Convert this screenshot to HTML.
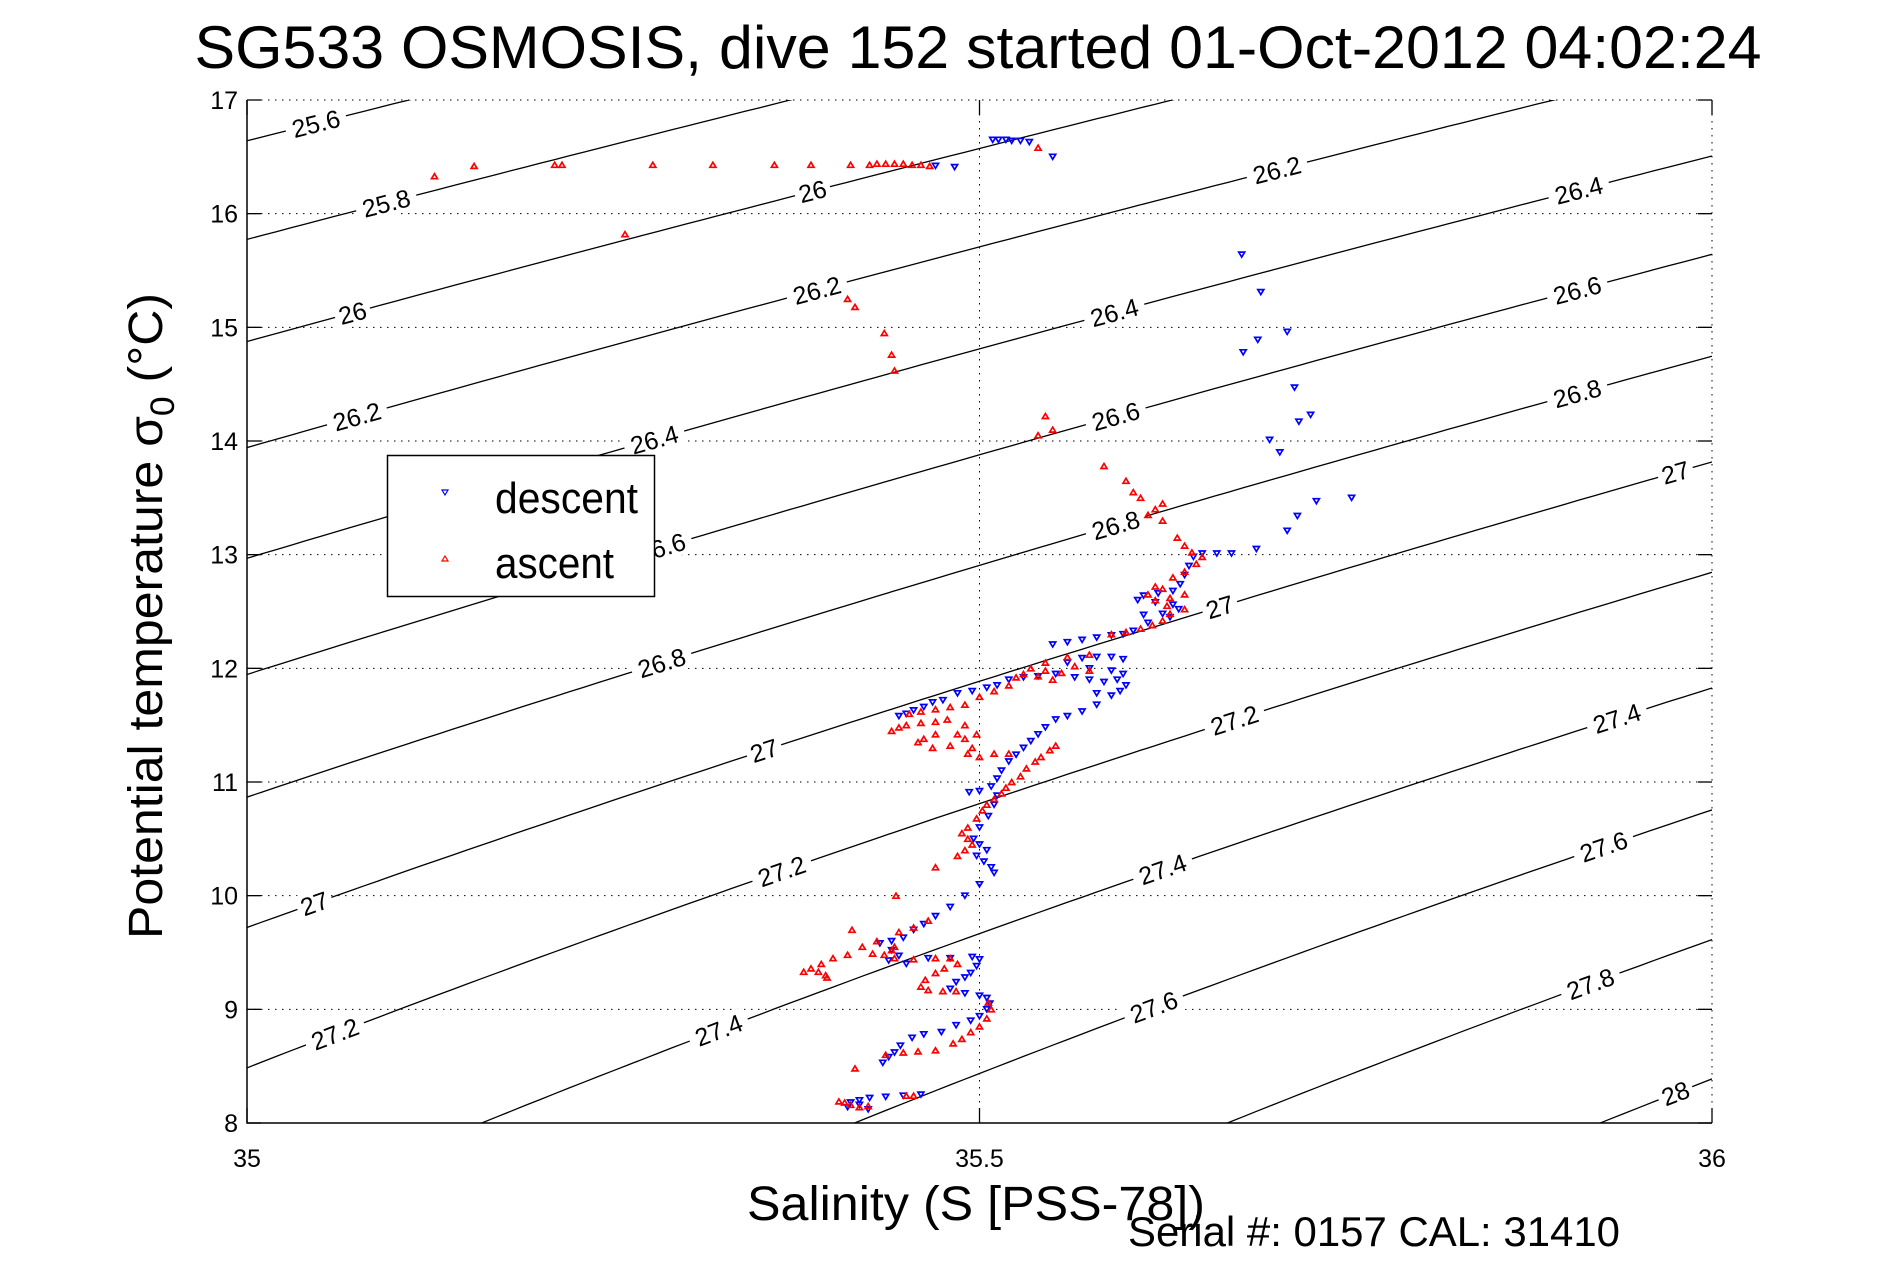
<!DOCTYPE html>
<html><head><meta charset="utf-8"><style>
html,body{margin:0;padding:0;background:#fff;overflow:hidden;width:1891px;height:1262px;}
svg{display:block;font-family:"Liberation Sans",sans-serif;}
</style></head><body>
<svg id="chart" width="1891" height="1262" viewBox="0 0 1891 1262" xmlns="http://www.w3.org/2000/svg">
<defs><clipPath id="clip"><rect x="247" y="100" width="1465" height="1023"/></clipPath></defs>
<text x="978" y="68" font-size="60" text-anchor="middle" textLength="1567" lengthAdjust="spacingAndGlyphs">SG533 OSMOSIS, dive 152 started 01-Oct-2012 04:02:24</text>
<g id="grid"></g>
<g id="contours" clip-path="url(#clip)"></g>
<g id="clabels"></g>
<g id="marks" clip-path="url(#clip)"></g>
<g id="axes"></g>
<text x="976" y="1220" font-size="48" text-anchor="middle" textLength="458" lengthAdjust="spacingAndGlyphs">Salinity (S [PSS-78])</text>
<text transform="translate(162,616) rotate(-90)" font-size="48" text-anchor="middle" textLength="646" lengthAdjust="spacingAndGlyphs">Potential temperature σ<tspan font-size="34" dy="12">0</tspan><tspan dy="-12"> (°C)</tspan></text>
<text x="1128" y="1246" font-size="42" textLength="492" lengthAdjust="spacingAndGlyphs">Serial #: 0157  CAL: 31410</text>
<g>
<rect x="387.5" y="455.5" width="267" height="141" fill="#fff" stroke="#000" stroke-width="1.5"/>
<path d="M442,490 L448,490 L445,495 Z" fill="none" stroke="#00f" stroke-width="1.2"/>
<text x="495" y="513" font-size="44" textLength="143" lengthAdjust="spacingAndGlyphs">descent</text>
<path d="M442,561 L448,561 L445,556 Z" fill="none" stroke="#f00" stroke-width="1.2"/>
<text x="495" y="578" font-size="44" textLength="119" lengthAdjust="spacingAndGlyphs">ascent</text>
</g>
</svg>
<script>
const xTicks=[35,35.5,36];
const xTickLabels=["35","35.5","36"];
const yTicks=[8,9,10,11,12,13,14,15,16,17];
const yTickLabels=["8","9","10","11","12","13","14","15","16","17"];
const sigmaLevels=[25.6,25.8,26.0,26.2,26.4,26.6,26.8,27.0,27.2,27.4,27.6,27.8,28.0];
const labelLevels=[25.6,25.8,26,26.2,26.4,26.6,26.8,27,27,27.2,27.2,27.4,26,26.2,26.4,26.6,26.8,27,27.2,27.4,27.6,26.2,26.4,26.6,26.8,27,27.4,27.6,27.8,28];
const labelSal=[35.047,35.095,35.072,35.075,35.278,35.283,35.283,35.353,35.046,35.365,35.060,35.322,35.386,35.389,35.592,35.593,35.593,35.664,35.674,35.625,35.619,35.703,35.909,35.908,35.908,35.975,35.935,35.926,35.917,35.975];
const descentS=[35.509,35.513,35.518,35.522,35.528,35.534,35.550,35.483,35.470,35.679,35.692,35.710,35.690,35.680,35.715,35.726,35.718,35.698,35.705,35.754,35.730,35.717,35.710,35.689,35.672,35.662,35.652,35.646,35.643,35.640,35.637,35.632,35.622,35.612,35.608,35.620,35.632,35.636,35.625,35.612,35.630,35.615,35.605,35.598,35.590,35.580,35.570,35.560,35.550,35.598,35.590,35.580,35.570,35.560,35.575,35.590,35.598,35.594,35.585,35.575,35.565,35.600,35.596,35.590,35.580,35.552,35.540,35.530,35.520,35.512,35.505,35.495,35.485,35.475,35.468,35.462,35.455,35.450,35.445,35.580,35.570,35.560,35.552,35.545,35.540,35.535,35.530,35.525,35.520,35.515,35.512,35.508,35.500,35.493,35.512,35.510,35.506,35.500,35.496,35.500,35.505,35.498,35.503,35.508,35.510,35.500,35.490,35.480,35.470,35.462,35.455,35.448,35.440,35.432,35.440,35.445,35.438,35.450,35.465,35.480,35.495,35.500,35.498,35.494,35.490,35.484,35.480,35.490,35.500,35.505,35.507,35.505,35.500,35.494,35.484,35.474,35.462,35.454,35.446,35.442,35.438,35.434,35.460,35.448,35.436,35.425,35.418,35.412,35.418,35.424,35.410];
const descentT=[16.65,16.65,16.65,16.64,16.64,16.63,16.50,16.41,16.42,15.64,15.31,14.96,14.89,14.78,14.47,14.23,14.17,14.01,13.90,13.50,13.47,13.34,13.21,13.05,13.01,13.01,13.01,12.98,12.90,12.82,12.74,12.68,12.66,12.64,12.60,12.58,12.56,12.52,12.48,12.47,12.45,12.40,12.33,12.30,12.29,12.27,12.25,12.23,12.21,12.08,12.10,12.10,12.09,12.05,12.00,11.98,11.95,11.90,11.88,11.90,11.92,11.85,11.80,11.76,11.78,11.95,11.93,11.92,11.90,11.85,11.83,11.80,11.78,11.72,11.70,11.66,11.63,11.60,11.58,11.68,11.62,11.58,11.55,11.48,11.42,11.36,11.30,11.24,11.18,11.10,11.03,10.96,10.92,10.91,10.88,10.80,10.70,10.60,10.50,10.45,10.40,10.35,10.30,10.25,10.20,10.10,10.00,9.90,9.82,9.75,9.70,9.63,9.60,9.58,9.52,9.47,9.43,9.40,9.45,9.45,9.46,9.44,9.38,9.32,9.28,9.24,9.18,9.14,9.12,9.10,9.05,9.00,8.94,8.90,8.86,8.80,8.78,8.75,8.68,8.62,8.58,8.53,8.25,8.24,8.23,8.22,8.20,8.18,8.16,8.12,8.14];
const ascentS=[35.408,35.404,35.412,35.418,35.424,35.450,35.455,35.415,35.436,35.448,35.458,35.470,35.482,35.488,35.494,35.500,35.505,35.508,35.506,35.484,35.475,35.465,35.460,35.463,35.470,35.476,35.485,35.480,35.470,35.455,35.442,35.435,35.440,35.442,35.395,35.390,35.385,35.392,35.400,35.410,35.420,35.430,35.445,35.455,35.465,35.380,35.396,35.427,35.413,35.443,35.470,35.485,35.490,35.495,35.492,35.488,35.492,35.498,35.502,35.505,35.510,35.515,35.518,35.522,35.528,35.532,35.538,35.542,35.548,35.552,35.445,35.440,35.450,35.460,35.470,35.478,35.470,35.462,35.458,35.468,35.480,35.490,35.498,35.495,35.492,35.500,35.510,35.520,35.490,35.485,35.452,35.460,35.470,35.480,35.490,35.500,35.510,35.520,35.525,35.530,35.540,35.550,35.556,35.545,35.535,35.545,35.560,35.575,35.565,35.575,35.590,35.600,35.610,35.618,35.625,35.630,35.640,35.628,35.620,35.615,35.630,35.640,35.625,35.620,35.632,35.640,35.648,35.652,35.645,35.640,35.635,35.625,35.615,35.620,35.625,35.610,35.605,35.600,35.585,35.550,35.545,35.540,35.442,35.440,35.435,35.415,35.410,35.258,35.128,35.155,35.210,35.215,35.277,35.318,35.360,35.385,35.412,35.425,35.430,35.436,35.442,35.448,35.454,35.460,35.466,35.540];
const ascentT=[8.18,8.19,8.16,8.14,8.15,8.24,8.24,8.48,8.60,8.62,8.63,8.64,8.70,8.74,8.80,8.85,8.92,9.00,9.06,9.16,9.16,9.17,9.20,9.26,9.32,9.36,9.40,9.45,9.45,9.44,9.45,9.48,9.52,9.55,9.30,9.33,9.36,9.40,9.45,9.48,9.55,9.60,9.68,9.72,9.78,9.33,9.28,9.49,9.70,10.00,10.25,10.35,10.40,10.45,10.50,10.55,10.60,10.68,10.75,10.80,10.85,10.90,10.95,11.00,11.05,11.12,11.18,11.22,11.28,11.32,11.48,11.45,11.50,11.52,11.53,11.55,11.42,11.38,11.35,11.30,11.32,11.38,11.42,11.30,11.25,11.22,11.25,11.25,11.50,11.42,11.60,11.62,11.64,11.66,11.68,11.75,11.80,11.85,11.92,11.95,11.93,11.90,11.96,11.98,12.00,12.05,12.10,12.12,12.02,11.98,12.30,12.32,12.35,12.38,12.42,12.48,12.52,12.55,12.60,12.65,12.62,12.65,12.70,12.72,12.80,12.85,12.92,12.98,13.02,13.08,13.15,13.30,13.35,13.40,13.45,13.50,13.55,13.65,13.78,14.10,14.22,14.05,14.62,14.76,14.95,15.18,15.25,15.82,16.33,16.42,16.43,16.43,16.43,16.43,16.43,16.43,16.43,16.43,16.44,16.44,16.44,16.44,16.43,16.43,16.42,16.58];

const X0=247,X1=1712,Y0=100,Y1=1123;
const sx=s=>X0+(s-35)/(36-35)*(X1-X0);
const sy=t=>Y1-(t-8)/(17-8)*(Y1-Y0);
const NS='http://www.w3.org/2000/svg';
function mk(tag,attrs,parent){const e=document.createElementNS(NS,tag);for(const k in attrs)e.setAttribute(k,attrs[k]);parent.appendChild(e);return e;}
function sigma(S,T){
 const rw=999.842594+6.793952e-2*T-9.095290e-3*T*T+1.001685e-4*T**3-1.120083e-6*T**4+6.536332e-9*T**5;
 const A=0.824493-4.0899e-3*T+7.6438e-5*T*T-8.2467e-7*T**3+5.3875e-9*T**4;
 const B=-5.72466e-3+1.0227e-4*T-1.6546e-6*T*T;
 return rw+A*S+B*Math.pow(S,1.5)+4.8314e-4*S*S-1000;
}
function tempFor(S,lev){let lo=-2,hi=30;for(let i=0;i<50;i++){const m=(lo+hi)/2;if(sigma(S,m)>lev)lo=m;else hi=m;}return (lo+hi)/2;}

const grid=document.getElementById('grid');
yTicks.forEach(t=>{const l=mk('line',{x1:X0,x2:X1,y1:sy(t),y2:sy(t),stroke:'#000','stroke-width':1,'stroke-dasharray':'1.5 5.5'},grid);

});
xTicks.forEach(s=>{const l=mk('line',{x1:sx(s),x2:sx(s),y1:Y0,y2:Y1,stroke:'#000','stroke-width':1,'stroke-dasharray':'1.5 5.5'},grid);

});

const cg=document.getElementById('contours');
sigmaLevels.forEach(lev=>{let d='';for(let i=0;i<=100;i++){const S=35+i/100;const T=tempFor(S,lev);d+=(i?'L':'M')+sx(S).toFixed(1)+','+sy(T).toFixed(1);}
const p=mk('path',{d:d,fill:'none',stroke:'#000','stroke-width':1.3},cg);

});

const lg=document.getElementById('clabels');
labelLevels.forEach((lev,i)=>{const S=labelSal[i];const T=tempFor(S,lev);const x=sx(S),y=sy(T);
const x2=sx(S+0.01),y2=sy(tempFor(S+0.01,lev));const ang=Math.atan2(y2-y,x2-x)*180/Math.PI;
const txt=(lev===26||lev===27||lev===28)?String(lev):lev.toFixed(1);
const g=mk('g',{transform:`translate(${x.toFixed(1)},${y.toFixed(1)}) rotate(${ang.toFixed(2)})`},lg);


const w=txt.length*13+10;
mk('rect',{x:-w/2,y:-13,width:w,height:26,fill:'#fff'},g);
const t=mk('text',{x:0,y:9,'font-size':25,'text-anchor':'middle'},g);t.textContent=txt;});

const marks=document.getElementById('marks');
descentS.forEach((s,i)=>{const x=sx(s),y=sy(descentT[i]);
const p=mk('path',{d:`M${(x-3).toFixed(1)},${(y-2.5).toFixed(1)}h6l-3,5z`,fill:'none',stroke:'#00f','stroke-width':1.7},marks);

});
ascentS.forEach((s,i)=>{const x=sx(s),y=sy(ascentT[i]);
const p=mk('path',{d:`M${(x-3).toFixed(1)},${(y+2.5).toFixed(1)}h6l-3,-5z`,fill:'none',stroke:'#f00','stroke-width':1.7},marks);

});

const ax=document.getElementById('axes');
mk('path',{d:`M${X0},${Y0}V${Y1}H${X1}`,fill:'none',stroke:'#000','stroke-width':1.5},ax);
yTicks.forEach((t,i)=>{mk('line',{x1:X0,x2:X0+14,y1:sy(t),y2:sy(t),stroke:'#000','stroke-width':1.3},ax);
mk('line',{x1:X1-14,x2:X1,y1:sy(t),y2:sy(t),stroke:'#000','stroke-width':1.3},ax);
const tx=mk('text',{x:X0-9,y:sy(t)+9,'font-size':25,'text-anchor':'end'},ax);


tx.textContent=yTickLabels[i];});
xTicks.forEach((s,i)=>{mk('line',{x1:sx(s),x2:sx(s),y1:Y1,y2:Y1-15,stroke:'#000','stroke-width':1.3},ax);
mk('line',{x1:sx(s),x2:sx(s),y1:Y0,y2:Y0+15,stroke:'#000','stroke-width':1.3},ax);
const tx=mk('text',{x:sx(s),y:Y1+44,'font-size':25,'text-anchor':'middle'},ax);


tx.textContent=xTickLabels[i];});
</script>
</body></html>
